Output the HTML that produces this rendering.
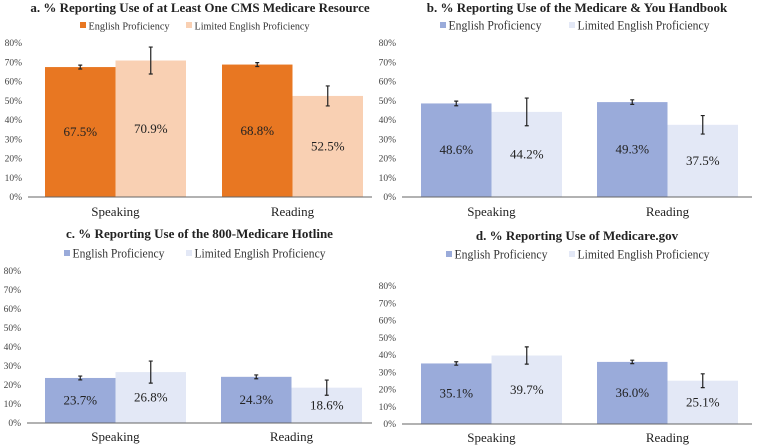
<!DOCTYPE html>
<html><head><meta charset="utf-8"><style>
body{margin:0;background:#fff;}
svg{display:block;font-family:"Liberation Serif",serif;}
</style></head><body>
<svg id="chart" width="760" height="446"></svg>
<script>
const categories = ["Speaking", "Reading"];
const seriesNames = ["English Proficiency", "Limited English Proficiency"];
const titles = ["a. % Reporting Use of at Least One CMS Medicare Resource","b. % Reporting Use of the Medicare & You Handbook","c. % Reporting Use of the 800-Medicare Hotline","d. % Reporting Use of Medicare.gov"];
const epValues = [[67.5, 68.8],[48.6, 49.3],[23.7, 24.3],[35.1, 36.0]];
const lepValues = [[70.9, 52.5],[44.2, 37.5],[26.8, 18.6],[39.7, 25.1]];
const epErr = [[1, 1],[1.2, 1.2],[1, 1],[1, 1]];
const lepErr = [[7, 5.2],[7.2, 4.8],[5.8, 4],[5, 4]];
const yTicks = [0,10,20,30,40,50,60,70,80];
const NS="http://www.w3.org/2000/svg";
const svg=document.getElementById('chart');
function mk(tag,attrs,parent){const e=document.createElementNS(NS,tag);for(const k in attrs)e.setAttribute(k,attrs[k]);(parent||svg).appendChild(e);return e;}
const panels=[
 {x0:28,x1:372,yTop:43,yBot:197,titleY:12,legY:27,catY:216,gx:[45,222],bw:70.5,lab:22,colors:["#E87722","#F9D0B3"],legX:[80,186],legW:[81,115],legF:11},
 {x0:402,x1:752,yTop:43,yBot:197,titleY:12,legY:27,catY:216,gx:[421,597],bw:70.5,lab:396,colors:["#9AABDA","#E3E8F6"],legX:[440,569],legW:[93,132],legF:12.5},
 {x0:27,x1:372,yTop:271,yBot:423,titleY:238,legY:255,catY:441,gx:[45,221],bw:70.5,lab:21,colors:["#9AABDA","#E3E8F6"],legX:[64,186],legW:[92,131],legF:12.5},
 {x0:402,x1:752,yTop:286,yBot:424,titleY:240,legY:256,catY:442,gx:[421,597],bw:70.5,lab:396,colors:["#9AABDA","#E3E8F6"],legX:[446,569],legW:[93,132],legF:12.5}
];
panels.forEach((p,i)=>{
 const g=mk('g',{});
 
 
 const y=v=>p.yBot-(v/80)*(p.yBot-p.yTop);
 const t=mk('text',{x:(p.x0+p.x1)/2,y:p.titleY,'text-anchor':'middle','font-size':'13','font-weight':'bold',fill:'#222'},g);
 t.textContent=titles[i];
 
 
 seriesNames.forEach((s,k)=>{
  const r=mk('rect',{x:p.legX[k],y:p.legY-5,width:6,height:6,fill:p.colors[k]},g);
  
  
  const lt=mk('text',{x:p.legX[k]+8.5,y:p.legY+2.5,'font-size':p.legF,fill:'#333',textLength:p.legW[k],lengthAdjust:'spacingAndGlyphs'},g);
  lt.textContent=s;
  
  
 });
 yTicks.forEach(v=>{
  const tt=mk('text',{x:p.lab,y:y(v)+3,'text-anchor':'end','font-size':'9.5',fill:'#444'},g);
  tt.textContent=v+'%';
  
  
 });
 categories.forEach((c,j)=>{
  const x0=p.gx[j];
  [[epValues,epErr],[lepValues,lepErr]].forEach(([vals,errs],k)=>{
   const v=vals[i][j], e=errs[i][j], bx=x0+k*p.bw;
   const r=mk('rect',{x:bx,y:y(v),width:p.bw,height:p.yBot-y(v),fill:p.colors[k]},g);
   
   
   const cx=bx+p.bw/2;
   const eg=mk('path',{d:`M${cx},${y(v+e)}V${y(v-e)}M${cx-2},${y(v+e)}H${cx+2}M${cx-2},${y(v-e)}H${cx+2}`,stroke:'#222','stroke-width':'1.2',fill:'none'},g);
   
   
   const vt=mk('text',{x:cx,y:y(v/2)+4,'text-anchor':'middle','font-size':'13',fill:'#222'},g);
   vt.textContent=v.toFixed(1)+'%';
   
   
  });
  const ct=mk('text',{x:x0+p.bw,y:p.catY,'text-anchor':'middle','font-size':'13',fill:'#222'},g);
  ct.textContent=c;
  
  
 });
 const ax=mk('line',{x1:p.x0,x2:p.x1,y1:p.yBot,y2:p.yBot,stroke:'#666','stroke-width':'1'},g);
 
 
});
</script>
</body></html>
